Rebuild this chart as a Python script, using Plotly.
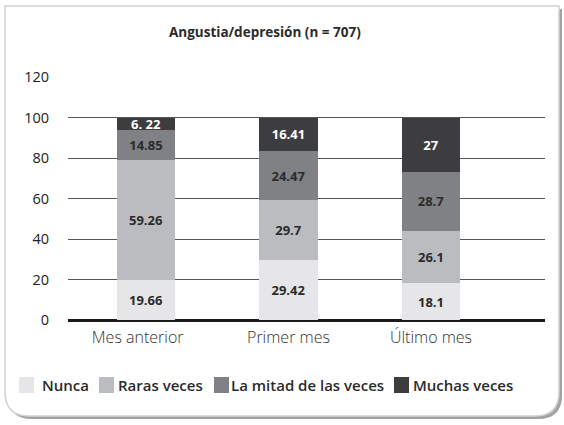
import plotly.graph_objects as go

# ── data ──
categories = ["Mes anterior", "Primer mes", "Último mes"]
nunca = [19.66, 29.42, 18.1]
raras = [59.26, 29.7, 26.1]
mitad = [14.85, 24.47, 28.7]
muchas = [6.22, 16.41, 27]
muchas_text = ["6. 22", "16.41", "27"]

series = [
    ("Nunca", nunca, [str(v) for v in nunca], "#e6e6e8", "#2b2b2b"),
    ("Raras veces", raras, [str(v) for v in raras], "#bbbcc0", "#2b2b2b"),
    ("La mitad de las veces", mitad, [str(v) for v in mitad], "#808184", "#2b2b2b"),
    ("Muchas veces", muchas, muchas_text, "#3d3d3f", "#ffffff"),
]

FONT = "Open Sans"

fig = go.Figure()
for name, vals, txt, col, tcol in series:
    fig.add_trace(go.Bar(
        x=categories, y=vals, name=name, text=txt,
        textposition="inside", insidetextanchor="middle", constraintext="none",
        textfont=dict(family=FONT, size=13, color=tcol, weight="bold"),
        marker=dict(color=col, line=dict(width=0)),
        width=0.41, cliponaxis=False,
        hoverinfo="skip", showlegend=False,
    ))

# pixel helpers: plot area 68..545 x, 77..320 y
L, R, T, B = 68, 545, 77, 320
def px(x):
    return (x - L) / (R - L)
def py(y):
    return (B - y) / (B - T)

# frame with rounded bottom corners and a shadow
def frame_path(x0, y0, x1, y1, r):
    return (f"M {px(x0)},{py(y0)} L {px(x1)},{py(y0)} L {px(x1)},{py(y1 - r)} "
            f"Q {px(x1)},{py(y1)} {px(x1 - r)},{py(y1)} "
            f"L {px(x0 + r)},{py(y1)} Q {px(x0)},{py(y1)} {px(x0)},{py(y1 - r)} Z")

shapes = [
    dict(type="path", xref="paper", yref="paper", layer="below",
         path=frame_path(8, 9, 562, 419, 24),
         fillcolor="#a3a3a3", line=dict(width=0)),
    dict(type="path", xref="paper", yref="paper", layer="below",
         path=frame_path(5, 6, 559, 416, 24),
         fillcolor="#ffffff", line=dict(color="#d2d2d2", width=1.5)),
]

annotations = [dict(
    text="<b>Angustia/depresión (n = 707)</b>", xref="paper", yref="paper",
    x=px(265), y=py(32), yanchor="middle", showarrow=False,
    font=dict(family=FONT, size=13.5, color="#2b2b2b"),
)]

# hand-drawn legend (bigger squares than plotly's own)
legend_sq = [19, 99, 214, 394]
legend_tx = [40, 116, 229, 411]
for (name, _, _, col, _), sx, tx in zip(series, legend_sq, legend_tx):
    shapes.append(dict(type="rect", xref="paper", yref="paper",
                       x0=px(sx), x1=px(sx + 15), y0=py(377), y1=py(393),
                       fillcolor=col, line=dict(width=0)))
    annotations.append(dict(
        text=name, xref="paper", yref="paper", x=px(tx), y=py(385),
        xanchor="left", yanchor="middle", showarrow=False,
        font=dict(family=FONT, size=15, color="#2b2b2b", weight=600),
    ))

fig.update_layout(
    barmode="stack",
    width=564, height=425,
    margin=dict(l=L, r=564 - R, t=T, b=425 - B, autoexpand=False),
    paper_bgcolor="#ffffff", plot_bgcolor="rgba(0,0,0,0)",
    font=dict(family=FONT, color="#2b2b2b"),
    shapes=shapes, annotations=annotations,
    showlegend=False,
)

fig.update_xaxes(
    range=[-0.547, 2.8], showgrid=False, zeroline=False, showline=False,
    tickvals=categories,
    ticktext=["Mes anterior\u00a0\u00a0\u00a0\u00a0", "Primer mes", "Último mes"],
    ticks="", ticklabelstandoff=6,
    tickfont=dict(family=FONT, size=16, color="#333333", weight=300),
)
fig.update_yaxes(
    range=[0, 120], dtick=20, showgrid=True, gridcolor="#555555", gridwidth=1,
    zeroline=True, zerolinecolor="#1a1a1a", zerolinewidth=2.5,
    showline=False, ticks="", ticklabelstandoff=18,
    tickfont=dict(family=FONT, size=14.5, color="#222222"),
)

fig.write_html("out.html", config={"displayModeBar": False},
               post_script="document.body.style.margin='0';")
